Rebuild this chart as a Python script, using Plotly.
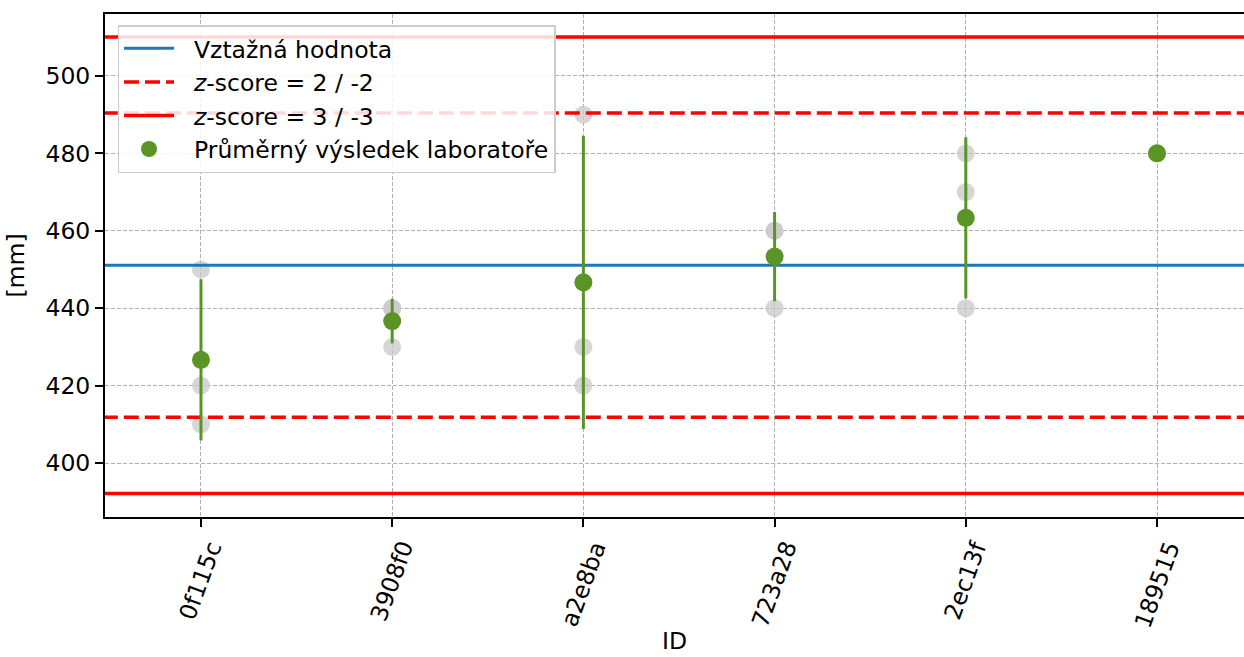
import numpy as np
import plotly.graph_objects as go

# Laboratory IDs and their individual results [mm]
lab_ids = ["0f115c", "3908f0", "a2e8ba", "723a28", "2ec13f", "189515"]
results_0f115c = [450, 420, 410]
results_3908f0 = [440, 440, 430]
results_a2e8ba = [490, 430, 420]
results_723a28 = [460, 460, 440]
results_2ec13f = [480, 470, 440]
results_189515 = [480]

# Assigned value and standard deviation for proficiency assessment
reference_value = 451.1
sigma = 19.65

y_ticks = [400, 420, 440, 460, 480, 500]

all_results = [results_0f115c, results_3908f0, results_a2e8ba,
               results_723a28, results_2ec13f, results_189515]

positions = np.arange(len(lab_ids))
means = [float(np.mean(r)) for r in all_results]
stds = [float(np.std(r, ddof=1)) if len(r) > 1 else 0 for r in all_results]

FONT = "DejaVu Sans"
FS = 23.5
GREEN = "#5a9426"
X_RANGE = [-0.502, 5.455]
Y_RANGE = [386.05, 516.0]
PAD = "\u00a0\u00a0"  # gap between legend symbol and label

fig = go.Figure()

# individual results
px_, py_ = [], []
for i, r in enumerate(all_results):
    px_ += [positions[i]] * len(r)
    py_ += r
fig.add_trace(go.Scatter(
    x=px_, y=py_, mode="markers", showlegend=False, hoverinfo="skip",
    marker=dict(size=18, color="rgba(200,200,200,0.75)", line=dict(width=0)),
))

span = [X_RANGE[0] - 1, X_RANGE[1] + 1]
fig.add_trace(go.Scatter(
    x=span, y=[reference_value] * 2, mode="lines", name=PAD + "Vztažná hodnota",
    line=dict(color="#1f77b4", width=3), legendgroup="a",
))
for k, (dash, label, grp) in enumerate([("15px,6px", "<i>z</i>-score = 2 / -2", "b"),
                                        ("solid", "<i>z</i>-score = 3 / -3", "c")]):
    z = k + 2
    for sgn in (1, -1):
        fig.add_trace(go.Scatter(
            x=span, y=[reference_value + sgn * z * sigma] * 2, mode="lines",
            name=PAD + label, legendgroup=grp, showlegend=(sgn == 1),
            line=dict(color="#ff0000", width=3.5, dash=dash),
        ))

# laboratory means with standard deviation
fig.add_trace(go.Scatter(
    x=positions, y=means, mode="markers", name=PAD + "Průměrný výsledek laboratoře",
    legendgroup="d",
    marker=dict(size=18, color=GREEN, line=dict(width=0)),
    error_y=dict(type="data", array=stds,
                 visible=True, color=GREEN, thickness=3, width=0),
))

# rotated category labels centred under the ticks
for i, lab in enumerate(lab_ids):
    fig.add_annotation(
        x=positions[i], y=0, xref="x", yref="paper", text=lab, showarrow=False,
        textangle=-70, xanchor="center", yanchor="top", yshift=-18,
        font=dict(family=FONT, size=FS, color="black"),
    )

# x-axis title
fig.add_annotation(
    x=0.5, y=0, xref="paper", yref="paper", text="ID", showarrow=False,
    xanchor="center", yanchor="middle", yshift=-124, borderpad=0,
    font=dict(family=FONT, size=FS, color="black"),
)

fig.update_layout(
    width=1244, height=657,
    margin=dict(l=105, r=0, t=14, b=140),
    plot_bgcolor="white", paper_bgcolor="white",
    font=dict(family=FONT, size=FS, color="black"),
    legend=dict(
        x=0.011, y=0.978, xanchor="left", yanchor="top",
        bgcolor="rgba(255,255,255,0.85)", bordercolor="#cccccc", borderwidth=1.5,
        traceorder="grouped", tracegroupgap=0,
        font=dict(family=FONT, size=FS, color="black"),
        itemwidth=50,
    ),
    xaxis=dict(
        range=X_RANGE, tickvals=list(positions), showticklabels=False,
        ticks="outside", ticklen=8, tickwidth=2, tickcolor="black",
        showline=True, linecolor="black", linewidth=2, mirror=True,
        showgrid=True, gridcolor="#b0b0b0", griddash="4px,2px", gridwidth=1,
        zeroline=False,
    ),
    yaxis=dict(
        range=Y_RANGE, tickvals=y_ticks,
        ticks="outside", ticklen=8, tickwidth=2, tickcolor="black",
        showline=True, linecolor="black", linewidth=2,
        showgrid=True, gridcolor="#b0b0b0", griddash="4px,2px", gridwidth=1,
        zeroline=False,
        title=dict(text="[mm]", standoff=14, font=dict(size=FS)),
    ),
)

fig.write_html("out.html")
